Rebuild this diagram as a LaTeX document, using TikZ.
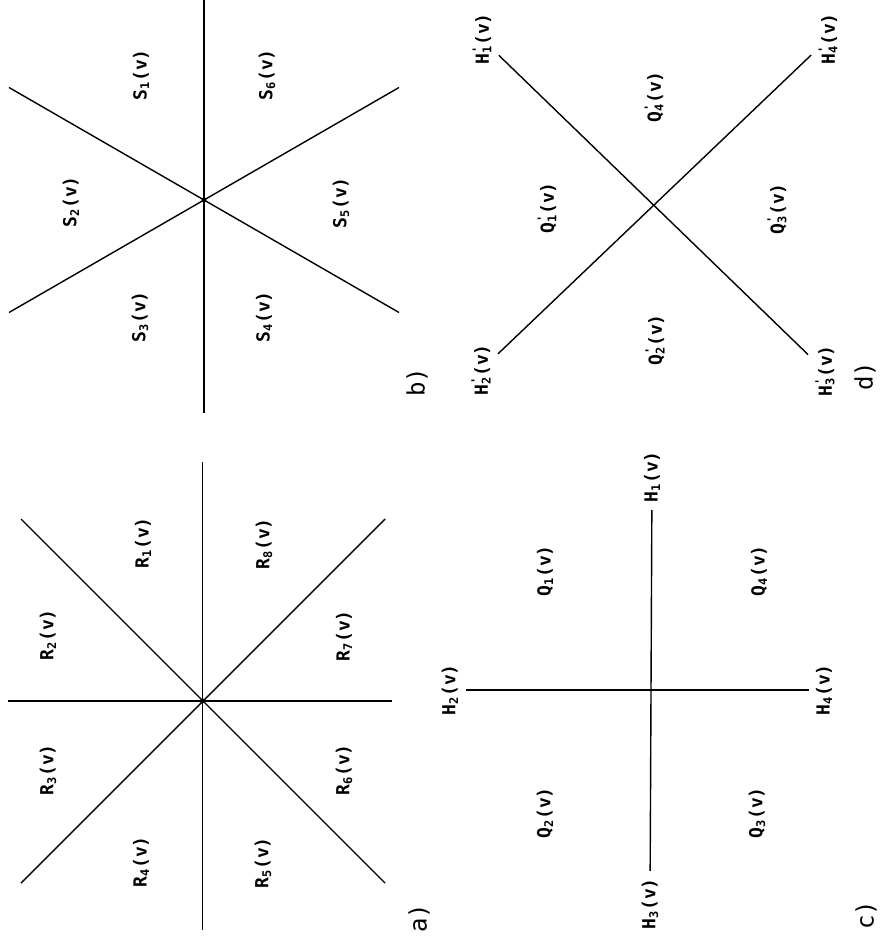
\documentclass[tikz,border=0pt]{standalone}
\usepackage{fontspec}
\setmonofont{DejaVu Sans Mono}
\newcommand{\reg}[2]{#1\textsubscript{#2}(v)}
\newcommand{\regp}[2]{#1\rlap{\textsuperscript{'}}\textsubscript{#2}(v)}
\tikzset{
  regionlab/.style={rotate=90,font=\small\ttfamily\bfseries},
  panellab/.style={rotate=90,font=\large\ttfamily}
}
\begin{document}
\begin{tikzpicture}[x=0.5pt,y=-0.5pt,line width=0.7pt]
\useasboundingbox (0,0) rectangle (884,946);
\coordinate (Oa) at (202.5,701);
\coordinate (Ob) at (204,200);
\draw (202.5,462) -- (202.5,930);
\draw (8,701) -- (392,701);
\draw (21,519) -- (385,883);
\draw (21,883) -- (385,519);
\fill (Oa) circle (2.5);
\foreach \i/\x/\y in {1/143/543,2/48/635,3/48/770,4/141/862,5/263/863,6/344/770,7/344/636,8/264/544}
  \node[regionlab] (R\i) at (\x,\y) {\reg{R}{\i}};
\node[panellab] (pa) at (419,918) {a)};
\draw (204,0) -- (204,413);
\draw (9,87.5) -- (399,312.5);
\draw (9,312.5) -- (399,87.5);
\fill (Ob) circle (2.5);
\foreach \i/\x/\y in {1/141/75,2/71/202,3/140/317,4/264/317,5/341/203,6/267/75}
  \node[regionlab] (S\i) at (\x,\y) {\reg{S}{\i}};
\node[panellab] (pb) at (417,382) {b)};
\node[regionlab] (H1) at (652,477) {\reg{H}{1}};
\node[regionlab] (H2) at (450,690) {\reg{H}{2}};
\node[regionlab] (H3) at (650,904) {\reg{H}{3}};
\node[regionlab] (H4) at (824,690) {\reg{H}{4}};
\draw (H1) -- (H3);
\draw (H2) -- (H4);
\foreach \i/\x/\y in {1/545/571,2/545/813,3/757/813,4/759/571}
  \node[regionlab] (Q\i) at (\x,\y) {\reg{Q}{\i}};
\node[panellab] (pc) at (866,915) {c)};
\node[regionlab] (Hp1) at (482,39) {\regp{H}{1}};
\node[regionlab] (Hp2) at (481,370) {\regp{H}{2}};
\node[regionlab] (Hp3) at (825,371) {\regp{H}{3}};
\node[regionlab] (Hp4) at (828,39) {\regp{H}{4}};
\draw (Hp1) -- (Hp3);
\draw (Hp2) -- (Hp4);
\foreach \i/\x/\y in {1/547/208,2/655/340,3/777/209,4/654/97}
  \node[regionlab] (Qp\i) at (\x,\y) {\regp{Q}{\i}};
\node[panellab] (pd) at (865,376) {d)};
\end{tikzpicture}
\end{document}
